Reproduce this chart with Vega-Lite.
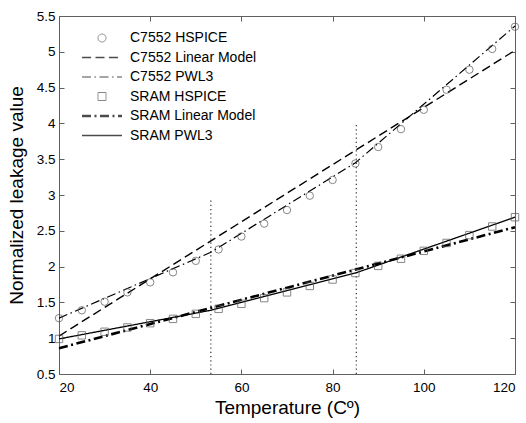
{
  "$schema": "https://vega.github.io/schema/vega-lite/v6.json",
  "width": 456,
  "height": 358,
  "autosize": "none",
  "padding": {"left": 59, "top": 16, "right": 11, "bottom": 49},
  "background": "white",
  "config": {
    "view": {"stroke": null},
    "axis": {
      "grid": false,
      "domain": true,
      "domainColor": "#606060",
      "domainWidth": 1,
      "tickSize": -5,
      "tickColor": "#606060",
      "labelFont": "Liberation Sans",
      "labelFontSize": 13.5,
      "labelColor": "black",
      "titleFont": "Liberation Sans",
      "titleFontSize": 19,
      "titleFontWeight": "normal",
      "titleColor": "black"
    },
    "legend": {
      "labelFont": "Liberation Sans",
      "labelFontSize": 14,
      "labelColor": "black",
      "labelOffset": 21,
      "rowPadding": 5.5,
      "symbolSize": 64,
      "padding": 0
    }
  },
  "datasets": {
    "pts": [
      {"series": "C7552 HSPICE", "t": 20, "v": 1.28},
      {"series": "C7552 HSPICE", "t": 25, "v": 1.39},
      {"series": "C7552 HSPICE", "t": 30, "v": 1.51},
      {"series": "C7552 HSPICE", "t": 35, "v": 1.64},
      {"series": "C7552 HSPICE", "t": 40, "v": 1.78},
      {"series": "C7552 HSPICE", "t": 45, "v": 1.92},
      {"series": "C7552 HSPICE", "t": 50, "v": 2.08},
      {"series": "C7552 HSPICE", "t": 55, "v": 2.24},
      {"series": "C7552 HSPICE", "t": 60, "v": 2.42},
      {"series": "C7552 HSPICE", "t": 65, "v": 2.60},
      {"series": "C7552 HSPICE", "t": 70, "v": 2.79},
      {"series": "C7552 HSPICE", "t": 75, "v": 2.99},
      {"series": "C7552 HSPICE", "t": 80, "v": 3.21},
      {"series": "C7552 HSPICE", "t": 85, "v": 3.44},
      {"series": "C7552 HSPICE", "t": 90, "v": 3.67},
      {"series": "C7552 HSPICE", "t": 95, "v": 3.92},
      {"series": "C7552 HSPICE", "t": 100, "v": 4.19},
      {"series": "C7552 HSPICE", "t": 105, "v": 4.47},
      {"series": "C7552 HSPICE", "t": 110, "v": 4.75},
      {"series": "C7552 HSPICE", "t": 115, "v": 5.04},
      {"series": "C7552 HSPICE", "t": 120, "v": 5.35},
      {"series": "SRAM HSPICE", "t": 20, "v": 0.99},
      {"series": "SRAM HSPICE", "t": 25, "v": 1.04},
      {"series": "SRAM HSPICE", "t": 30, "v": 1.09},
      {"series": "SRAM HSPICE", "t": 35, "v": 1.15},
      {"series": "SRAM HSPICE", "t": 40, "v": 1.21},
      {"series": "SRAM HSPICE", "t": 45, "v": 1.27},
      {"series": "SRAM HSPICE", "t": 50, "v": 1.34},
      {"series": "SRAM HSPICE", "t": 55, "v": 1.41},
      {"series": "SRAM HSPICE", "t": 60, "v": 1.48},
      {"series": "SRAM HSPICE", "t": 65, "v": 1.56},
      {"series": "SRAM HSPICE", "t": 70, "v": 1.64},
      {"series": "SRAM HSPICE", "t": 75, "v": 1.73},
      {"series": "SRAM HSPICE", "t": 80, "v": 1.82},
      {"series": "SRAM HSPICE", "t": 85, "v": 1.91},
      {"series": "SRAM HSPICE", "t": 90, "v": 2.01},
      {"series": "SRAM HSPICE", "t": 95, "v": 2.11},
      {"series": "SRAM HSPICE", "t": 100, "v": 2.22},
      {"series": "SRAM HSPICE", "t": 105, "v": 2.33},
      {"series": "SRAM HSPICE", "t": 110, "v": 2.44},
      {"series": "SRAM HSPICE", "t": 115, "v": 2.56},
      {"series": "SRAM HSPICE", "t": 120, "v": 2.69}
    ],
    "lines": [
      {"series": "C7552 Linear Model", "t": 20, "v": 1.03},
      {"series": "C7552 Linear Model", "t": 120, "v": 5.02},
      {"series": "C7552 PWL3", "t": 20, "v": 1.28},
      {"series": "C7552 PWL3", "t": 53.3, "v": 2.2},
      {"series": "C7552 PWL3", "t": 85, "v": 3.45},
      {"series": "C7552 PWL3", "t": 120, "v": 5.36},
      {"series": "SRAM Linear Model", "t": 20, "v": 0.86},
      {"series": "SRAM Linear Model", "t": 120, "v": 2.55},
      {"series": "SRAM PWL3", "t": 20, "v": 0.99},
      {"series": "SRAM PWL3", "t": 53.3, "v": 1.39},
      {"series": "SRAM PWL3", "t": 85, "v": 1.91},
      {"series": "SRAM PWL3", "t": 120, "v": 2.69}
    ],
    "guides": [
      {"t": 53.3, "v0": 0.5, "v1": 2.93},
      {"t": 85.2, "v0": 0.5, "v1": 3.98}
    ]
  },
  "layer": [
    {
      "data": {"name": "guides"},
      "mark": {"type": "rule", "color": "#333333", "strokeWidth": 1.2, "strokeDash": [1.2, 3]},
      "encoding": {
        "x": {"field": "t", "type": "quantitative", "scale": {"domain": [20, 120], "nice": false, "zero": false},
              "axis": {"orient": "top", "labels": false, "title": null, "values": [20, 40, 60, 80, 100, 120]}},
        "y": {"field": "v0", "type": "quantitative", "scale": {"domain": [0.5, 5.5], "nice": false, "zero": false},
              "axis": {"orient": "right", "labels": false, "title": null, "values": [0.5, 1, 1.5, 2, 2.5, 3, 3.5, 4, 4.5, 5, 5.5]}},
        "y2": {"field": "v1"}
      }
    },
    {
      "data": {"name": "lines"},
      "mark": {"type": "line", "color": "black"},
      "encoding": {
        "x": {"field": "t", "type": "quantitative", "scale": {"domain": [20, 120], "nice": false, "zero": false},
              "axis": {"orient": "bottom", "title": "Temperature (Cº)", "values": [20, 40, 60, 80, 100, 120], "labelPadding": 11, "titlePadding": 5}},
        "y": {"field": "v", "type": "quantitative", "scale": {"domain": [0.5, 5.5], "nice": false, "zero": false},
              "axis": {"orient": "left", "title": "Normalized leakage value", "values": [0.5, 1, 1.5, 2, 2.5, 3, 3.5, 4, 4.5, 5, 5.5], "format": "~g", "labelPadding": 9, "titlePadding": 10}},
        "color": {"field": "series", "type": "nominal", "title": null,
                  "scale": {"domain": ["C7552 HSPICE", "C7552 Linear Model", "C7552 PWL3", "SRAM HSPICE", "SRAM Linear Model", "SRAM PWL3"],
                            "range": ["#555555", "black", "black", "#555555", "black", "black"]},
                  "legend": {"orient": "none", "legendX": 36, "legendY": 15}},
        "strokeDash": {"field": "series", "type": "nominal", "title": null,
                  "scale": {"domain": ["C7552 HSPICE", "C7552 Linear Model", "C7552 PWL3", "SRAM HSPICE", "SRAM Linear Model", "SRAM PWL3"],
                            "range": [[1, 0], [9, 4.5], [9, 3.5, 1.5, 3.5], [1, 0], [9, 3.5, 2, 3.5], [1, 0]]}},
        "strokeWidth": {"field": "series", "type": "nominal", "title": null,
                  "scale": {"type": "ordinal", "domain": ["C7552 HSPICE", "C7552 Linear Model", "C7552 PWL3", "SRAM HSPICE", "SRAM Linear Model", "SRAM PWL3"],
                            "range": [1, 1.4, 1.2, 1, 2.6, 1.3]}}
      }
    },
    {
      "data": {"name": "pts"},
      "mark": {"type": "point", "filled": false, "strokeWidth": 1, "size": 55},
      "encoding": {
        "x": {"field": "t", "type": "quantitative", "scale": {"domain": [20, 120], "nice": false, "zero": false}, "axis": null},
        "y": {"field": "v", "type": "quantitative", "scale": {"domain": [0.5, 5.5], "nice": false, "zero": false}, "axis": null},
        "color": {"field": "series", "type": "nominal", "title": null},
        "shape": {"field": "series", "type": "nominal", "title": null,
                  "scale": {"domain": ["C7552 HSPICE", "C7552 Linear Model", "C7552 PWL3", "SRAM HSPICE", "SRAM Linear Model", "SRAM PWL3"],
                            "range": ["circle", "M-5,0H5", "M-5,0H5", "square", "M-5,0H5", "M-5,0H5"]}}
      }
    }
  ],
  "resolve": {"axis": {"x": "independent", "y": "independent"}}
}
